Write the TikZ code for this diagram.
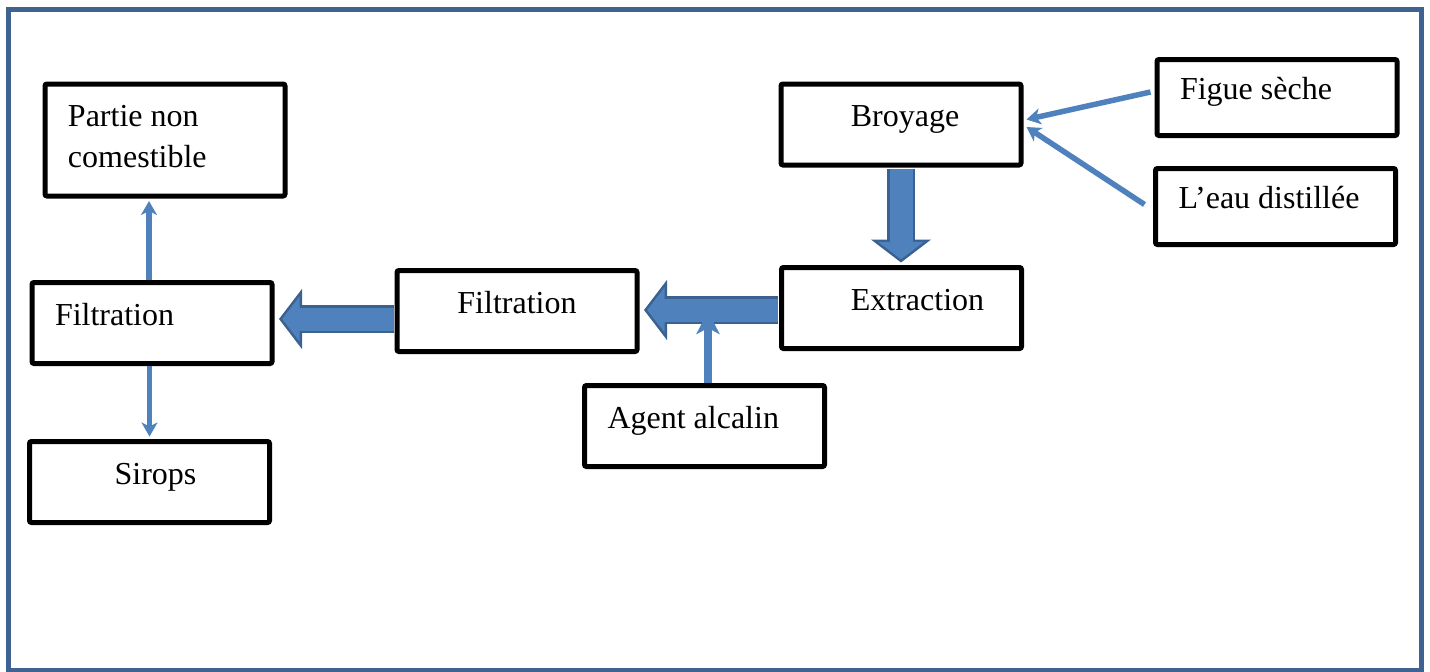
\documentclass[tikz,border=0pt]{standalone}
\usepackage{fontspec}
\setmainfont{Liberation Serif}
\usetikzlibrary{arrows.meta}
\definecolor{framecol}{HTML}{3E6390}
\definecolor{linkblue}{HTML}{4F81BD}
\definecolor{edgeblue}{HTML}{3A6190}

\begin{document}
\begin{tikzpicture}[
		x=0.5pt, y=-0.5pt,
		box/.style={draw, line width=2.5pt, rounded corners=1pt, inner xsep=11.5pt, text width=97pt, minimum height=40.5pt, align=flush left, font=\fontsize{16}{20.5}\selectfont},
		stage/.style={box, text height=13pt, text depth=11pt},
		feed/.style={draw=linkblue, line width=2.75pt, -{Stealth[length=7pt,width=8pt,inset=2pt]}},
		big feed/.style={feed, line width=4pt, -{Stealth[length=11.5pt,width=11.5pt,inset=3pt]}},
		big edge/.style={draw=edgeblue, line width=14pt, shorten <=0.5pt, -{Triangle[length=11.5pt,width=29.5pt]}},
		big fill/.style={draw=linkblue, line width=11.5pt, shorten <=0.5pt, shorten >=1.6pt, -{Triangle[length=8.7pt,width=22.3pt]}}
		]
		\useasboundingbox (0,0) rectangle (1430,671);
		
		% ---- cadre ----
		\draw[framecol, line width=2.5pt] (8.5,9.5) rectangle (1421.5,670.5);
		
		% ---- étapes ----
		\node[box, minimum height=56pt] (partie) at (165,140) {Partie non\\comestible\vspace*{3pt}};
		\node[stage, align=flush center] (broy) at (901,124.5) {\hspace*{4pt}Broyage};
		\node[stage, minimum height=38pt] (figue) at (1277,97.5) {Figue sèche};
		\node[stage, minimum height=38pt] (eau) at (1275.5,206.5) {L’eau distillée};
		
		\node[stage] (filt1) at (152,323) {Filtration};
		\node[stage, align=flush center] (filt2) at (517,311) {Filtration};
		\node[stage, align=flush center] (extr) at (901.5,308) {\hspace*{16pt}Extraction};
		
		\node[stage] (agent) at (704.5,426) {Agent alcalin};
		\node[stage, align=flush center] (sirops) at (149.5,482) {\hspace*{6pt}Sirops};
		
		\coordinate (mix) at (708,311);
		
		% ---- grosses flèches ----
		\draw[big edge] (broy.south) -- ([yshift=1.25pt]broy.south |- extr.north);
		\draw[big fill] (broy.south) -- ([yshift=1.25pt]broy.south |- extr.north);
		
		\draw[big edge] ([yshift=-1pt]extr.west) -- ([xshift=2.25pt,yshift=-1pt]filt2.east |- extr.west);
		\draw[big fill] ([yshift=-1pt]extr.west) -- ([xshift=2.25pt,yshift=-1pt]filt2.east |- extr.west);
		
		\draw[big edge] ([yshift=-4pt]filt2.west) -- ([xshift=2.25pt,yshift=-4pt]filt1.east |- filt2.west);
		\draw[big fill] ([yshift=-4pt]filt2.west) -- ([xshift=2.25pt,yshift=-4pt]filt1.east |- filt2.west);
		
		% ---- flèches fines ----
		\draw[feed] ([xshift=-2pt,yshift=2.75pt]figue.west) -- ([xshift=1.5pt,yshift=2.5pt]broy.east);
		\draw[feed] ([xshift=-4.25pt,yshift=1pt]eau.west) -- ([xshift=1.5pt,yshift=-1.25pt]broy.east);
		\draw[big feed] (agent.north -| mix) -- (mix);
		\draw[feed] ([xshift=-1.5pt]filt1.north) -- ([xshift=-1.5pt,yshift=-1.25pt]filt1.north |- partie.south);
		\draw[feed] (filt1.south -| sirops.north) -- ([yshift=1.25pt]sirops.north);
	\end{tikzpicture}
\end{document}
